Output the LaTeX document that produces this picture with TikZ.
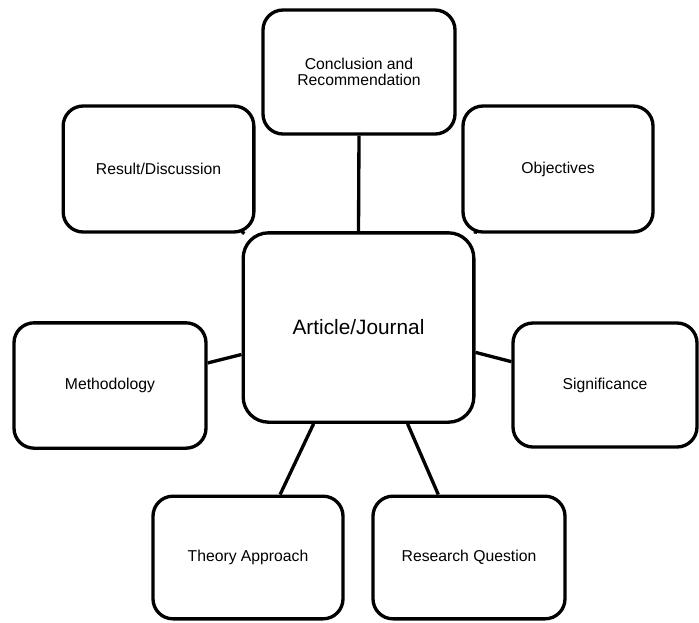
\documentclass[tikz,border=0pt]{standalone}
\usepackage{fontspec}
\setmainfont{Liberation Sans}
\usetikzlibrary{positioning}

\begin{document}
\begin{tikzpicture}[
		x=0.75pt, y=-0.75pt,
		every text node part/.style={align=center},
		box/.style = {draw, line width=2.5pt, rounded corners=15pt, inner sep=0pt,
			font=\fontsize{11.8}{11.8}\selectfont},
		mainbox/.style = {box, rounded corners=19pt, font=\fontsize{15.6}{15.6}\selectfont},
		link/.style = {line width=2.5pt}
	]
	\useasboundingbox (0,0) rectangle (699,622);

	\node(central)[mainbox, minimum width=173pt, minimum height=142pt] at (358.5,327.5) {Article/Journal};

	\node(conclusion)[box, minimum width=144pt, minimum height=93pt] at (359,72) {Conclusion and\\Recommendation};
	\node(result)[box, minimum width=143pt, minimum height=94.5pt] at (158.5,169) {Result/Discussion};
	\node(objectives)[box, minimum width=142.5pt, minimum height=94.5pt] at (558,169) {Objectives};
	\node(method)[box, minimum width=144pt, minimum height=94pt] at (110,385.5) {Methodology};
	\node(signif)[box, minimum width=138pt, minimum height=93pt] at (605,385) {Significance};
	\node(theory)[box, minimum width=142.5pt, minimum height=92pt] at (248,557.5) {Theory Approach};
	\node(question)[box, minimum width=144pt, minimum height=92pt] at (469,557.5) {Research Question};

	\draw[link] (conclusion.south) -- (central.north);
	\draw[link] (result.-37.7) -- (central.north west);
	\draw[link] (objectives.-142.5) -- (central.north east);
	\draw[link] (method.13.8) -- (central.193);
	\draw[link] (central.-12.9) -- (signif.166.6);
	\draw[link] (central.-115.7) -- (theory.63.2);
	\draw[link] (central.-63.8) -- (question.116);

\end{tikzpicture}
\end{document}
